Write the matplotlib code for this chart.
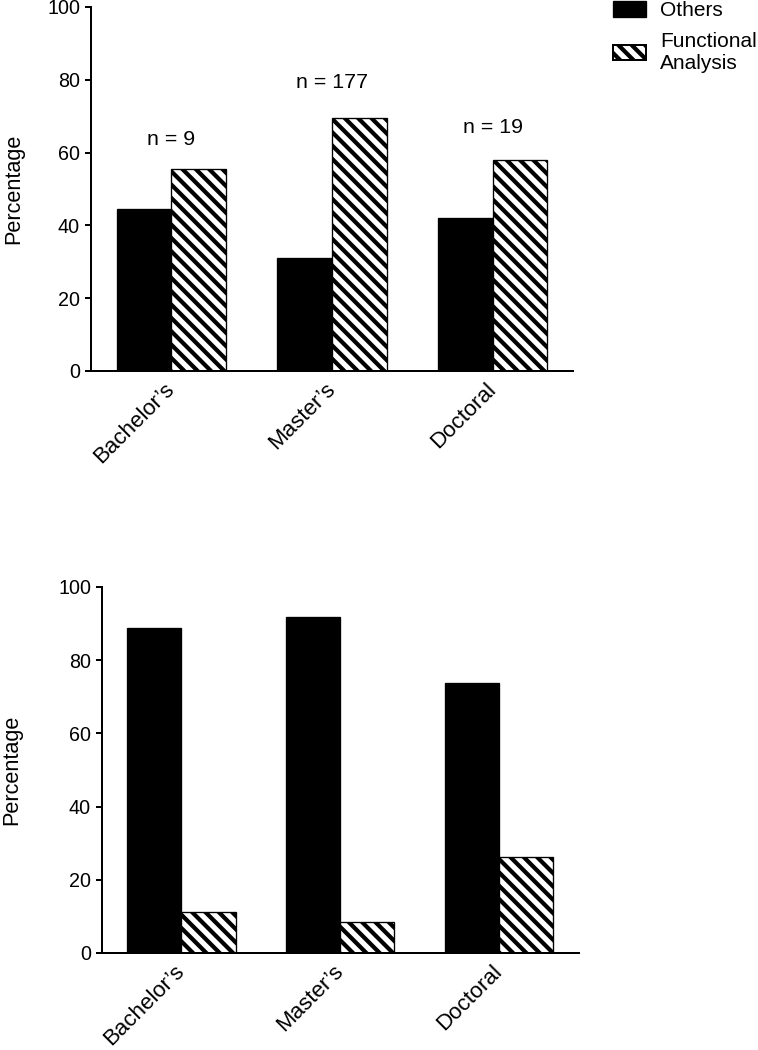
import numpy as np
import matplotlib
matplotlib.use("Agg")
import matplotlib.pyplot as plt
from matplotlib.patches import Patch


# Chart data (percentages)
DEGREES = ["Bachelor\u2019s", "Master\u2019s", "Doctoral"]
SERIES = ["Others", "Functional\nAnalysis"]
OTHERS_TOP = [44.4, 31.0, 42.1]         # upper panel
FA_TOP = [55.6, 69.4, 57.9]
N_LABELS = ["n = 9", "n = 177", "n = 19"]
OTHERS_BOTTOM = [88.9, 91.7, 73.7]      # lower panel
FA_BOTTOM = [11.1, 8.5, 26.3]
Y_TICKS = [0, 20, 40, 60, 80, 100]

# Layout / style
DPI = 80                                # low dpi so the hatch spacing matches the original
N_LABEL_Y = [63.5, 79.3, 67.0]          # height of the "n = .." notes
BAR_W = 0.34
HATCH = '\\\\'
FONT = "Liberation Sans"

plt.rcParams['font.family'] = [FONT, 'DejaVu Sans']
plt.rcParams['hatch.linewidth'] = 3.8
plt.rcParams['hatch.color'] = 'black'


def style_axes(ax, label_x):
    x = np.arange(len(DEGREES))
    ax.set_xlim(-0.5, 2.5)
    ax.set_ylim(0, 100)
    ax.set_yticks(Y_TICKS)
    ax.set_xticks(x)
    ax.set_xticklabels(DEGREES, rotation=45, ha='right', va='center',
                       rotation_mode='anchor', fontsize=20)
    ax.tick_params(axis='x', length=0, pad=14)
    ax.tick_params(axis='y', direction='out', length=5.4, width=1.8,
                   pad=4.5, labelsize=17.8)
    for side in ['top', 'right']:
        ax.spines[side].set_visible(False)
    for side in ['left', 'bottom']:
        ax.spines[side].set_linewidth(1.8)
    ax.set_ylabel("Percentage", fontsize=19.5, va='center')
    ax.yaxis.set_label_coords(label_x, 0.5)


def draw_bars(ax, others, fa):
    x = np.arange(len(DEGREES))
    ax.bar(x - BAR_W / 2, others, BAR_W, color='black', edgecolor='black',
           linewidth=1.2, zorder=2)
    ax.bar(x + BAR_W / 2, fa, BAR_W, color='white', edgecolor='black',
           hatch=HATCH, linewidth=1.2, zorder=2)


if __name__ == '__main__':
    fig = plt.figure(figsize=(758 / DPI, 1050 / DPI), dpi=DPI)

    # upper panel
    ax1 = fig.add_axes([0.1201, 0.6467, 0.6359, 0.3467])
    draw_bars(ax1, OTHERS_TOP, FA_TOP)
    for i, txt in enumerate(N_LABELS):
        ax1.text(i, N_LABEL_Y[i], txt, ha='center', va='center', fontsize=19.2)
    style_axes(ax1, -0.161)

    # lower panel
    ax2 = fig.add_axes([0.1346, 0.0924, 0.6289, 0.3486])
    draw_bars(ax2, OTHERS_BOTTOM, FA_BOTTOM)
    style_axes(ax2, -0.189)

    handles = [Patch(facecolor='black', edgecolor='black', linewidth=1.2),
               Patch(facecolor='white', edgecolor='black', hatch=HATCH, linewidth=1.8)]
    fig.legend(handles, SERIES, loc='upper left', bbox_to_anchor=(613 / 758, 0.999),
               frameon=False, borderpad=0, borderaxespad=0, fontsize=18.75,
               handlelength=1.6, handleheight=0.77, handletextpad=0.67,
               labelspacing=0.55)

    fig.savefig("out.png", dpi=DPI)
